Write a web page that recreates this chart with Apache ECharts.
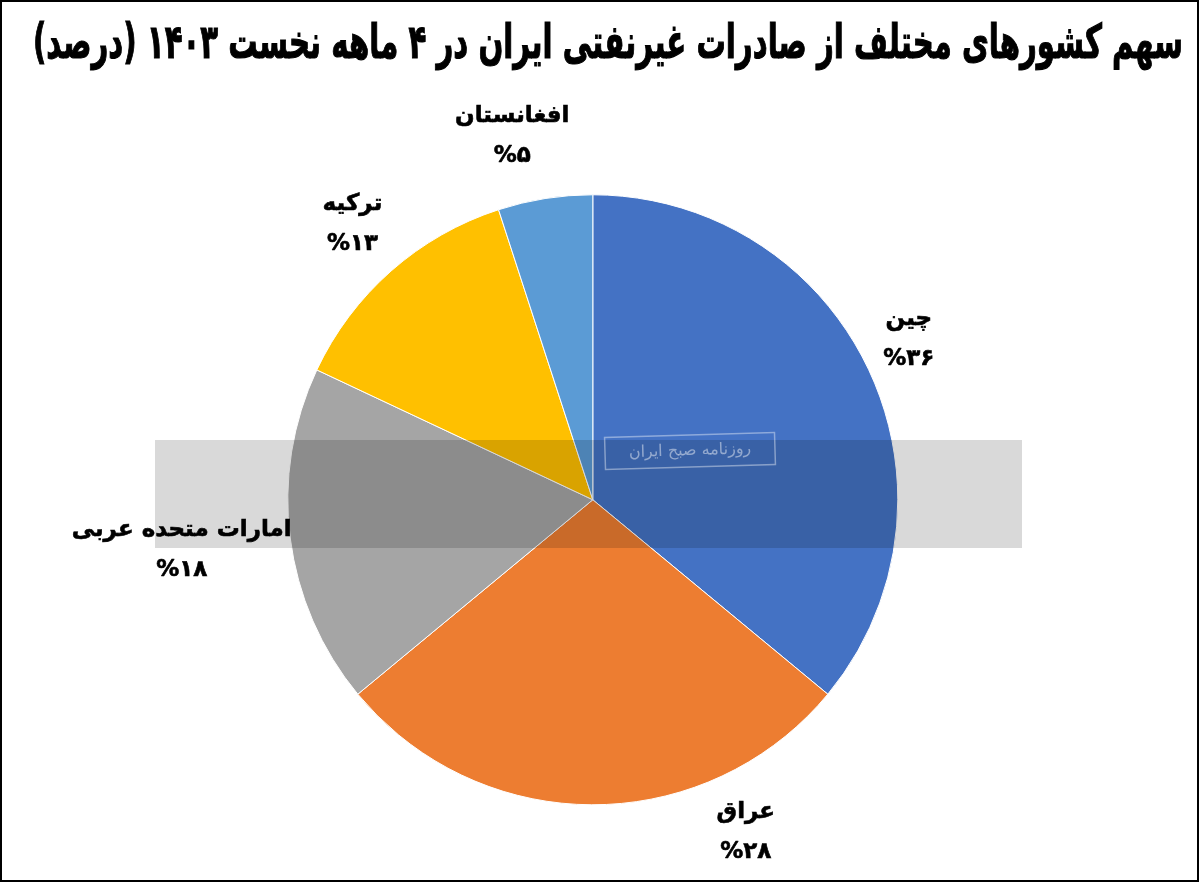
<!DOCTYPE html>
<html dir="rtl">
<head>
<meta charset="utf-8">
<script src="https://cdn.jsdelivr.net/npm/echarts@6/dist/echarts.min.js"></script>
<style>html,body{margin:0;padding:0;background:#fff}#c{width:1200px;height:883px}</style>
</head>
<body>
<div id="c"></div>
<script>
const titleText = 'سهم کشورهای مختلف از صادرات غیرنفتی ایران در ۴ ماهه نخست ۱۴۰۳ (درصد)';
const countries = ['چین', 'عراق', 'امارات متحده عربی', 'ترکیه', 'افغانستان'];
const shares = [36, 28, 18, 13, 5];
const colors = ['#4472C4', '#ED7D31', '#A5A5A5', '#FFC000', '#5B9BD5'];
const labelOffsets = [[-17, -4], [153, -36], [-46, 4], [3, 0], [-23, 0]];

function toFa(n) {
  return String(n).replace(/[0-9]/g, d => '۰۱۲۳۴۵۶۷۸۹'[d]);
}

const font = '"DejaVu Sans", sans-serif';
const titleFont = 'bold 40px "DejaVu Sans", sans-serif';
const mctx = document.createElement('canvas').getContext('2d');
mctx.font = titleFont;
const titleW = mctx.measureText(titleText).width;
const titleScaleX = 1150 / titleW;

const chart = echarts.init(document.getElementById('c'), null, {renderer: 'canvas'});
const center = ['49.4%', '56.6%'];

const labelStyle = {fontFamily: font, fontWeight: 'bold', fontSize: 23, color: '#000', lineHeight: 40, align: 'center',
  textBorderColor: '#000', textBorderWidth: 0.6};

chart.setOption({
  backgroundColor: '#fff',
  animation: false,
  series: [
    {
      type: 'pie',
      center: center,
      radius: [0, 305],
      startAngle: 90,
      clockwise: true,
      silent: true,
      label: {show: false},
      labelLine: {show: false},
      itemStyle: {borderColor: '#fff', borderWidth: 1},
      data: countries.map((c, i) => ({name: c, value: shares[i], itemStyle: {color: colors[i]}}))
    },
    {
      type: 'pie',
      center: center,
      radius: [330, 400],
      startAngle: 90,
      clockwise: true,
      silent: true,
      z: 5,
      itemStyle: {color: 'rgba(0,0,0,0)'},
      label: {
        show: true,
        position: 'inside',
        formatter: p => '{n|' + p.name + '}\n{p|%' + toFa(p.value) + '}',
        rich: {n: labelStyle, p: labelStyle}
      },
      labelLine: {show: false},
      data: countries.map((c, i) => ({name: c, value: shares[i], label: {offset: labelOffsets[i]}}))
    }
  ],
  graphic: [
    {
      type: 'text', z: 40, silent: true, x: 1183, y: 46, scaleX: titleScaleX, scaleY: 1.18,
      style: {x: 0, y: 0, text: titleText, align: 'right', verticalAlign: 'middle', font: titleFont,
        fill: '#000', stroke: '#000', lineWidth: 1}
    },
    {
      type: 'rect', z: 51, silent: true,
      shape: {x: 155, y: 440, width: 867, height: 108},
      style: {fill: 'rgba(0,0,0,0.15)'}
    },
    {
      type: 'rect', z: 52, silent: true, x: 690, y: 451, rotation: 0.03,
      shape: {x: -85, y: -16, width: 170, height: 32},
      style: {fill: 'none', stroke: 'rgba(255,255,255,0.4)', lineWidth: 1.5}
    },
    {
      type: 'text', z: 52, silent: true, x: 690, y: 451, rotation: 0.03,
      style: {x: 0, y: 0, text: 'روزنامه صبح ایران', align: 'center', verticalAlign: 'middle', font: '16px "DejaVu Sans", sans-serif', fill: 'rgba(255,255,255,0.45)'}
    },
    {
      type: 'rect', z: 60, silent: true,
      shape: {x: 1, y: 1, width: 1197, height: 880},
      style: {fill: 'none', stroke: '#000', lineWidth: 2}
    }
  ]
});
</script>
</body>
</html>
